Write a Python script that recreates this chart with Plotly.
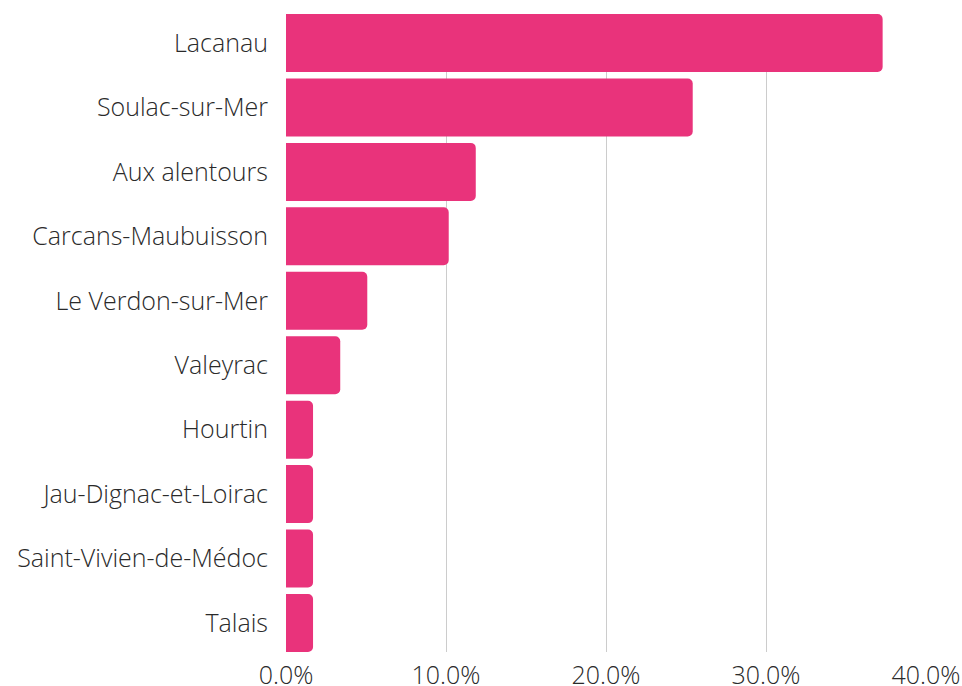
import plotly.graph_objects as go

categories = ["Lacanau", "Soulac-sur-Mer", "Aux alentours", "Carcans-Maubuisson",
              "Le Verdon-sur-Mer", "Valeyrac", "Hourtin", "Jau-Dignac-et-Loirac",
              "Saint-Vivien-de-Médoc", "Talais"]
values = [37.29, 25.42, 11.86, 10.17, 5.08, 3.39, 1.69, 1.69, 1.69, 1.69]
x_ticks = [0, 10, 20, 30, 40]
x_tick_labels = ["0.0%", "10.0%", "20.0%", "30.0%", "40.0%"]

fig = go.Figure(go.Bar(
    x=values, y=categories, orientation="h",
    marker=dict(color="#E9337B", line=dict(width=0)),
    width=0.9,
))
fig.update_layout(
    width=962, height=686,
    margin=dict(l=286, r=36, t=14, b=34, autoexpand=False),
    plot_bgcolor="white", paper_bgcolor="white",
    font=dict(family="Open Sans", weight=300, size=25, color="#2a2a2a"),
    barcornerradius=5,
    showlegend=False,
)
fig.update_xaxes(range=[0, 40], tickvals=x_ticks, ticktext=x_tick_labels,
                 showgrid=True, gridcolor="#cccccc", gridwidth=1, automargin=False,
                 zeroline=False, showline=False, ticks="", ticklabelstandoff=6)
fig.update_yaxes(autorange=False, range=[9.45, -0.45], showgrid=False, zeroline=False,
                 automargin=False, showline=False, ticks="", ticklabelstandoff=17)
fig.write_html("out.html")
